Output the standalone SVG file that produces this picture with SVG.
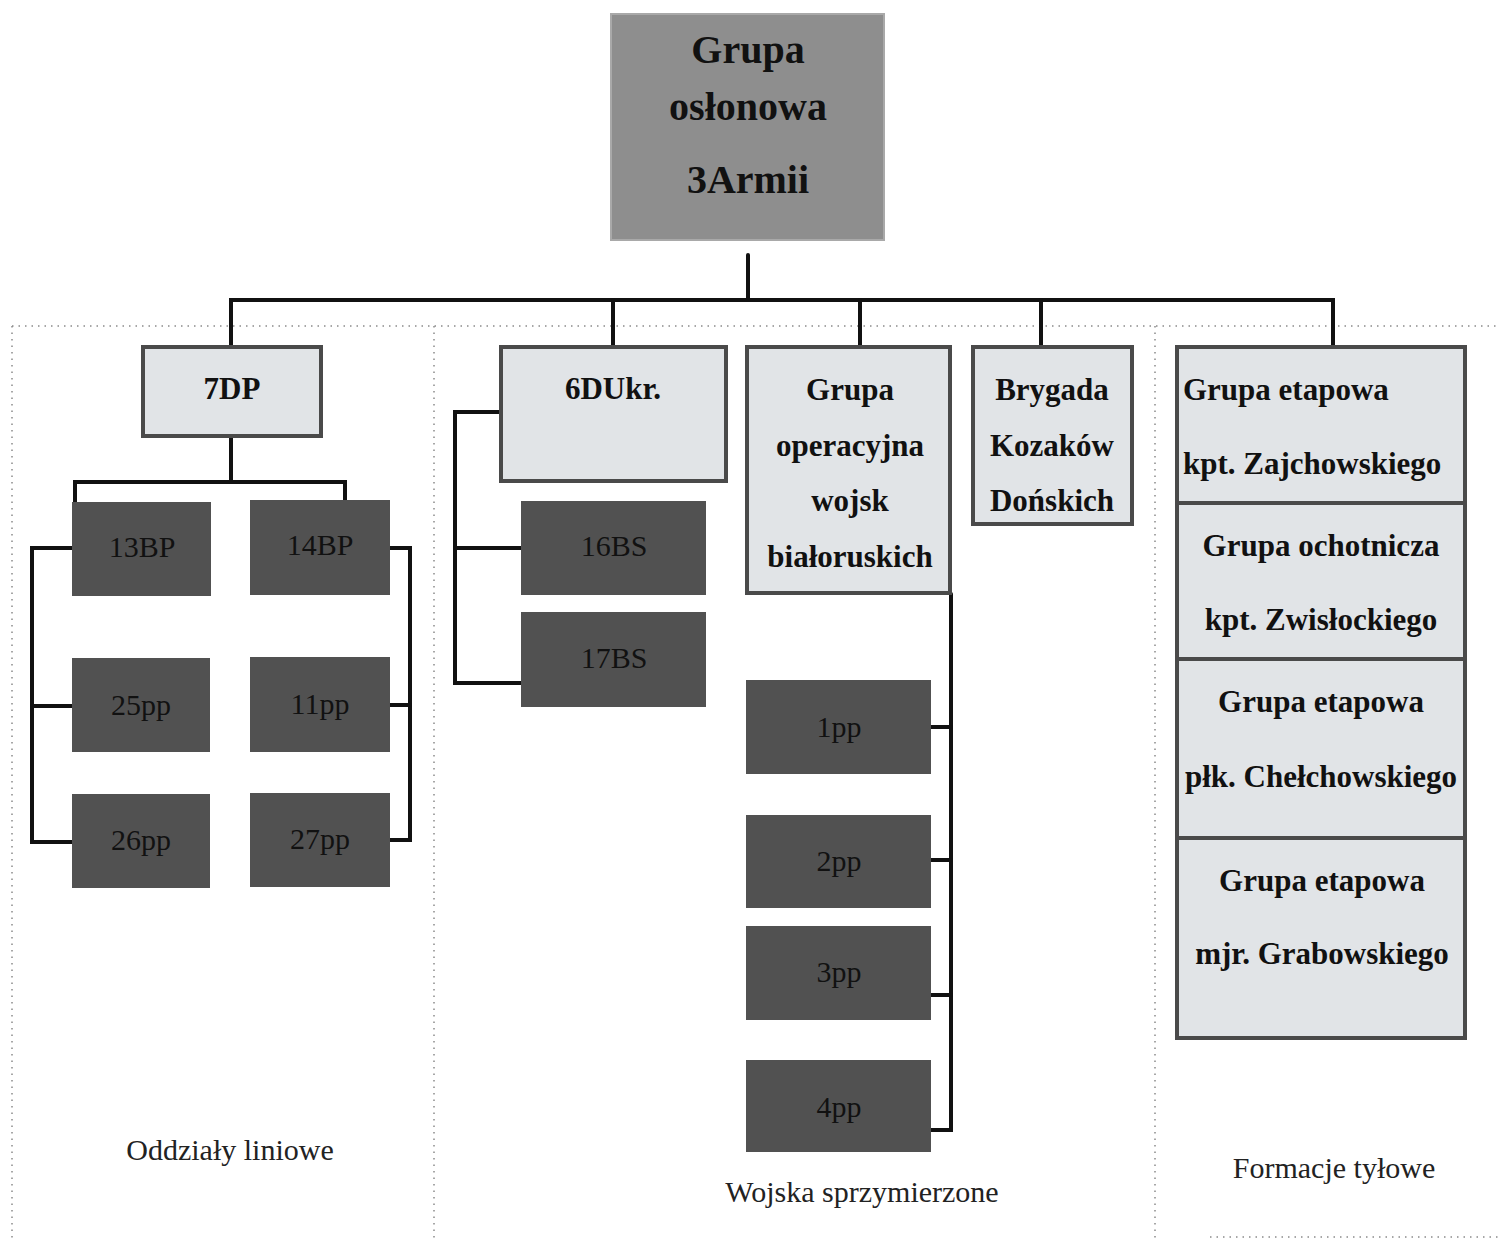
<svg xmlns="http://www.w3.org/2000/svg" width="1499" height="1240" viewBox="0 0 1499 1240">
<style>
.bg{fill:#ffffff}
.top{fill:#8e8e8e;stroke:#a9a9a9;stroke-width:2}
.light{fill:#e1e4e7;stroke:#4a4a4a;stroke-width:4}
.dark{fill:#515151;stroke:none}
.conn{fill:none;stroke:#111111;stroke-width:4;stroke-linecap:round;stroke-linejoin:miter}
.dot{fill:none;stroke:#8a8a8a;stroke-width:1.5;stroke-dasharray:1.5 5}
.tb{font-family:"Liberation Serif","Times New Roman",serif;font-weight:bold;font-size:31px;fill:#111111;text-anchor:middle}
.tt{font-family:"Liberation Serif","Times New Roman",serif;font-weight:bold;font-size:40px;fill:#111111;text-anchor:middle}
.td{font-family:"Liberation Serif","Times New Roman",serif;font-size:30px;fill:#111111;text-anchor:middle}
.tl{font-family:"Liberation Serif","Times New Roman",serif;font-size:30px;fill:#222222;text-anchor:middle}
</style>
<rect class="bg" x="0" y="0" width="1499" height="1240"/>

<g id="dividers">
<path class="dot" d="M12 326 H1499"/>
<path class="dot" d="M12 326 V1240"/>
<path class="dot" d="M434 326 V1240"/>
<path class="dot" d="M1155 326 V1240"/>
<path class="dot" d="M1210 1237 H1499"/>
</g>

<g id="connectors">
<path class="conn" d="M748 255 V300"/>
<path class="conn" d="M231 345 V300 H1333 V345"/>
<path class="conn" d="M613 300 V345"/>
<path class="conn" d="M860 300 V345"/>
<path class="conn" d="M1041 300 V345"/>
<path class="conn" d="M231 437 V482"/>
<path class="conn" d="M75 502 V482 H345 V502"/>
<path class="conn" d="M75 548 H32 V842 H75"/>
<path class="conn" d="M32 706 H75"/>
<path class="conn" d="M390 548 H410 V840 H390"/>
<path class="conn" d="M390 705 H410"/>
<path class="conn" d="M501 412 H455 V683 H524"/>
<path class="conn" d="M455 548 H524"/>
<path class="conn" d="M951 594 V1130 H930"/>
<path class="conn" d="M930 727 H951"/>
<path class="conn" d="M930 860 H951"/>
<path class="conn" d="M930 995 H951"/>
</g>

<g id="n-top">
<rect class="top" x="611" y="14" width="273" height="226"/>
<text class="tt" x="748" y="63">Grupa</text>
<text class="tt" x="748" y="120">osłonowa</text>
<text class="tt" x="748" y="193">3Armii</text>
</g>

<g id="n-7dp">
<rect class="light" x="143" y="347" width="178" height="89"/>
<text class="tb" x="232" y="399">7DP</text>
</g>
<g id="n-13bp"><rect class="dark" x="72" y="502" width="139" height="94"/><text class="td" x="142" y="557">13BP</text></g>
<g id="n-14bp"><rect class="dark" x="250" y="500" width="140" height="95"/><text class="td" x="320" y="555">14BP</text></g>
<g id="n-25pp"><rect class="dark" x="72" y="658" width="138" height="94"/><text class="td" x="141" y="715">25pp</text></g>
<g id="n-11pp"><rect class="dark" x="250" y="657" width="140" height="95"/><text class="td" x="320" y="714">11pp</text></g>
<g id="n-26pp"><rect class="dark" x="72" y="794" width="138" height="94"/><text class="td" x="141" y="850">26pp</text></g>
<g id="n-27pp"><rect class="dark" x="250" y="793" width="140" height="94"/><text class="td" x="320" y="849">27pp</text></g>

<g id="n-6dukr">
<rect class="light" x="501" y="347" width="225" height="134"/>
<text class="tb" x="613" y="399">6DUkr.</text>
</g>
<g id="n-16bs"><rect class="dark" x="521" y="501" width="185" height="94"/><text class="td" x="614" y="556">16BS</text></g>
<g id="n-17bs"><rect class="dark" x="521" y="612" width="185" height="95"/><text class="td" x="614" y="668">17BS</text></g>

<g id="n-gowb">
<rect class="light" x="747" y="347" width="203" height="246"/>
<text class="tb" x="850" y="400">Grupa</text>
<text class="tb" x="850" y="456">operacyjna</text>
<text class="tb" x="850" y="511">wojsk</text>
<text class="tb" x="850" y="567">białoruskich</text>
</g>
<g id="n-1pp"><rect class="dark" x="746" y="680" width="185" height="94"/><text class="td" x="839" y="737">1pp</text></g>
<g id="n-2pp"><rect class="dark" x="746" y="815" width="185" height="93"/><text class="td" x="839" y="871">2pp</text></g>
<g id="n-3pp"><rect class="dark" x="746" y="926" width="185" height="94"/><text class="td" x="839" y="982">3pp</text></g>
<g id="n-4pp"><rect class="dark" x="746" y="1060" width="185" height="92"/><text class="td" x="839" y="1117">4pp</text></g>

<g id="n-brygada">
<rect class="light" x="973" y="347" width="159" height="177"/>
<text class="tb" x="1052" y="400">Brygada</text>
<text class="tb" x="1052" y="456">Kozaków</text>
<text class="tb" x="1052" y="511">Dońskich</text>
</g>

<g id="n-zajch">
<rect class="light" x="1177" y="347" width="288" height="156"/>
<text class="tb" x="1183" y="400" style="text-anchor:start">Grupa etapowa</text>
<text class="tb" x="1183" y="474" style="text-anchor:start">kpt. Zajchowskiego</text>
</g>
<g id="n-zwis">
<rect class="light" x="1177" y="503" width="288" height="156"/>
<text class="tb" x="1321" y="556">Grupa ochotnicza</text>
<text class="tb" x="1321" y="630">kpt. Zwisłockiego</text>
</g>
<g id="n-chelch">
<rect class="light" x="1177" y="659" width="288" height="179"/>
<text class="tb" x="1321" y="712">Grupa etapowa</text>
<text class="tb" x="1321" y="787">płk. Chełchowskiego</text>
</g>
<g id="n-grab">
<rect class="light" x="1177" y="838" width="288" height="200"/>
<text class="tb" x="1322" y="891">Grupa etapowa</text>
<text class="tb" x="1322" y="964">mjr. Grabowskiego</text>
</g>

<g id="labels">
<text class="tl" x="230" y="1160">Oddziały liniowe</text>
<text class="tl" x="862" y="1202">Wojska sprzymierzone</text>
<text class="tl" x="1334" y="1178">Formacje tyłowe</text>
</g>
</svg>
